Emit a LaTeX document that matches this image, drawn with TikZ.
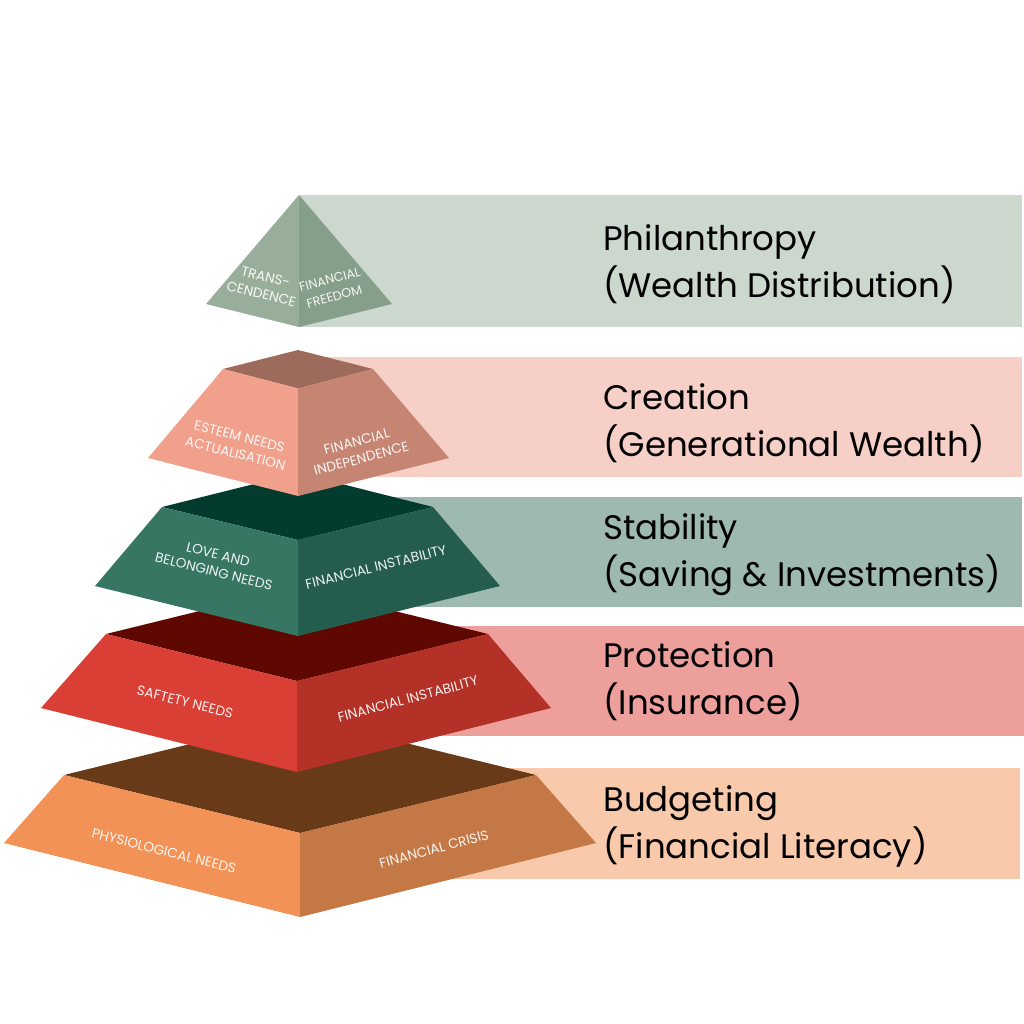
\documentclass[tikz,border=0pt]{standalone}
\usepackage{fontspec}
\setmainfont{Poppins}
\definecolor{bA}{HTML}{CCD7CD}\definecolor{lA}{HTML}{98AE9A}\definecolor{rA}{HTML}{869F8A}
\definecolor{bB}{HTML}{F6CFC7}\definecolor{lB}{HTML}{F1A08C}\definecolor{rB}{HTML}{C58572}\definecolor{tB}{HTML}{9C6B5C}
\definecolor{bC}{HTML}{9DB9B0}\definecolor{lC}{HTML}{367662}\definecolor{rC}{HTML}{245C4E}\definecolor{tC}{HTML}{033B2E}
\definecolor{bD}{HTML}{EDA09B}\definecolor{lD}{HTML}{D93F34}\definecolor{rD}{HTML}{B33127}\definecolor{tD}{HTML}{5E0801}
\definecolor{bE}{HTML}{F9C9AC}\definecolor{lE}{HTML}{F29256}\definecolor{rE}{HTML}{C47846}\definecolor{tE}{HTML}{683A18}
\tikzset{
 x=1pt,y=-1pt,
 small/.style={text=white,font=\fontsize{13.6}{17.5}\selectfont,align=center,inner sep=0pt,opacity=.92},
 head/.style={anchor=west,align=left,inner sep=0pt,text=black,font=\fontsize{34}{47}\selectfont}
}
\begin{document}
\begin{tikzpicture}
\useasboundingbox (0,0) rectangle (1024,1024);
% bands
\fill[bA] (299,195) rectangle (1022,327);
\fill[bB] (298,357) rectangle (1022,477);
\fill[bC] (298,497) rectangle (1022,607);
\fill[bD] (297,626) rectangle (1024,736);
\fill[bE] (300,768) rectangle (1020,879);
% tier 5
\fill[tE] (64,775) -- (300,717) -- (536,775) -- (300,833) -- cycle;
\fill[lE] (64,775) -- (300,833) -- (300,917) -- (4,843) -- cycle;
\fill[rE] (536,775) -- (300,833) -- (300,917) -- (596,843) -- cycle;
% tier 4
\fill[tD] (106,634) -- (297,587) -- (488,634) -- (297,681) -- cycle;
\fill[lD] (106,634) -- (297,681) -- (297,772) -- (41,708) -- cycle;
\fill[rD] (488,634) -- (297,681) -- (297,772) -- (551,708) -- cycle;
% tier 3
\fill[tC] (162,507) -- (298,473) -- (433,507) -- (298,540) -- cycle;
\fill[lC] (162,507) -- (298,540) -- (298,636) -- (95,586) -- cycle;
\fill[rC] (433,507) -- (298,540) -- (298,636) -- (500,586) -- cycle;
% tier 2
\fill[tB] (223,369) -- (298,350) -- (373,369) -- (298,388.5) -- cycle;
\fill[lB] (223,369) -- (298,388.5) -- (298,496) -- (148,458) -- cycle;
\fill[rB] (373,369) -- (298,388.5) -- (298,496) -- (449,458) -- cycle;
% tier 1
\fill[lA] (299,195) -- (299,327) -- (206,304) -- cycle;
\fill[rA] (299,195) -- (299,327) -- (392,304) -- cycle;
% small labels
\node[small,rotate=-14] (t1l) at (263.5,285.5) {TRANS-\\CENDENCE};
\node[small,rotate=15,font=\fontsize{12.6}{17.5}\selectfont] (t1r) at (332,288) {FINANCIAL\\FREEDOM};
\node[small,rotate=-14] (t2l) at (237.5,445) {ESTEEM NEEDS\\ACTUALISATION};
\node[small,rotate=15] (t2r) at (359,450) {FINANCIAL\\INDEPENDENCE};
\node[small,rotate=-14] (t3l) at (216,563) {LOVE AND\\BELONGING NEEDS};
\node[small,rotate=14] (t3r) at (376,567) {FINANCIAL INSTABILITY};
\node[small,rotate=-14] (t4l) at (185,702) {SAFTETY NEEDS};
\node[small,rotate=15] (t4r) at (408,699) {FINANCIAL INSTABILITY};
\node[small,rotate=-14] (t5l) at (164,851) {PHYSIOLOGICAL NEEDS};
\node[small,rotate=15] (t5r) at (434,849) {FINANCIAL CRISIS};
% headings
\node[head] (h1) at (603,264) {Philanthropy\\(Wealth Distribution)};
\node[head] (h2) at (603,423) {Creation\\(Generational Wealth)};
\node[head] (h3) at (603,555) {Stability\\(Saving \& Investments)};
\node[head] (h4) at (603,681) {Protection\\(Insurance)};
\node[head] (h5) at (603,826) {Budgeting\\(Financial Literacy)};
\end{tikzpicture}
\end{document}
